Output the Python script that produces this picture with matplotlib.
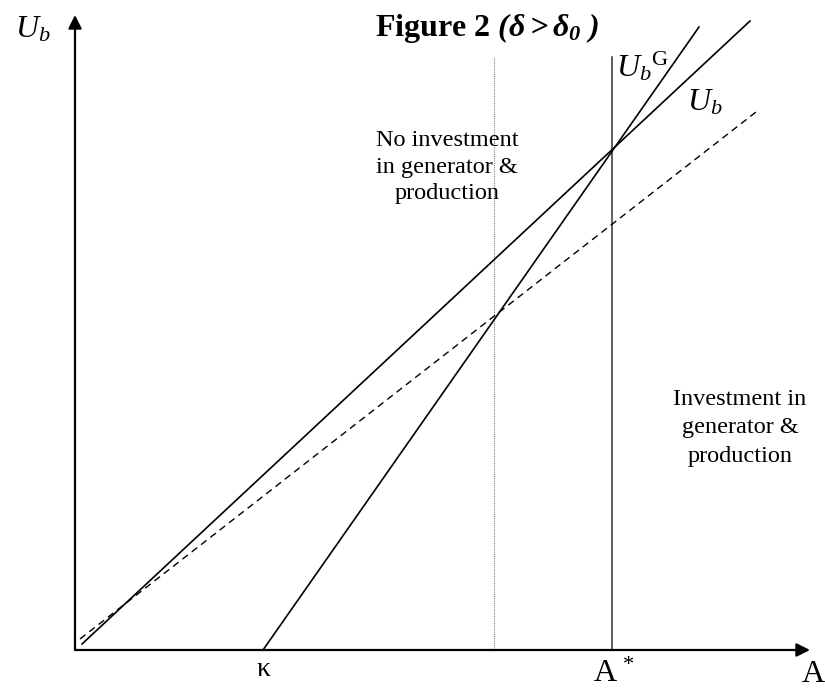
import matplotlib.pyplot as plt

plt.rcParams['font.family'] = 'Liberation Serif'
plt.rcParams['mathtext.fontset'] = 'custom'
plt.rcParams['mathtext.rm'] = 'Liberation Serif'
plt.rcParams['mathtext.it'] = 'Liberation Serif:italic'
plt.rcParams['mathtext.bf'] = 'Liberation Serif:bold:italic'

# axis extents (A horizontal, U vertical)
x_axis_end = 735
y_axis_end = 635

# positions on the A axis
kappa = 188
A_star = 537
A_0 = 419          # dotted line where dashed meets U_b^G

# lines: (A start, U start, A end, U end)
UbG_line = (188, 0, 624, 623)
Ub_line = (7, 6, 675, 629)
dashed_line = (5, 11, 681, 538)
vline_top = 593

fig = plt.figure(figsize=(8.25, 6.96), dpi=100)
ax = fig.add_axes([0, 0, 1, 1])
ax.set_xlim(-75, 750)
ax.set_ylim(-46, 650)
ax.axis('off')

# axes with arrows
arrow = dict(arrowstyle='-|>', color='black', lw=1.6, mutation_scale=20,
             shrinkA=0, shrinkB=0)
ax.annotate('', xy=(x_axis_end, 0), xytext=(0, 0), arrowprops=arrow)
ax.annotate('', xy=(0, y_axis_end), xytext=(0, 0), arrowprops=arrow)

# vertical lines
ax.plot([A_0, A_0], [0, vline_top], color='gray', lw=0.8, linestyle=(0, (1, 1)))
ax.plot([A_star, A_star], [0, vline_top], color='#333333', lw=1.1)

# curves
ax.plot(UbG_line[0::2], UbG_line[1::2], color='black', lw=1.2)
ax.plot(Ub_line[0::2], Ub_line[1::2], color='black', lw=1.2)
ax.plot(dashed_line[0::2], dashed_line[1::2], color='black', lw=1.0,
        linestyle=(0, (5, 3.5)))

# labels
ax.text(-42, 620, r'$U_b$', fontsize=23, ha='center', va='center')
ax.text(567, 583, r'$U_b{}^{\mathrm{G}}$', fontsize=23, ha='center', va='center')
ax.text(630, 547, r'$U_b$', fontsize=23, ha='center', va='center')
ax.text(kappa, -20, 'κ', fontsize=20, ha='center', va='center')
ax.text(A_star + 2, -24, r'A$^{\,*}$', fontsize=23, ha='center', va='center')
ax.text(x_axis_end + 3, -24, 'A', fontsize=23, ha='center', va='center')

ax.text(412, 622, r'Figure 2 $\mathbf{(\delta > \delta_0\ )}$', fontsize=23,
        fontweight='bold', ha='center', va='center')

ax.text(372, 483, 'No investment\nin generator &\nproduction', fontsize=17.5,
        ha='center', va='center', linespacing=1.35)
ax.text(665, 222, 'Investment in\ngenerator &\nproduction', fontsize=17.5,
        ha='center', va='center', linespacing=1.45)

fig.savefig('out.png', dpi=100)
